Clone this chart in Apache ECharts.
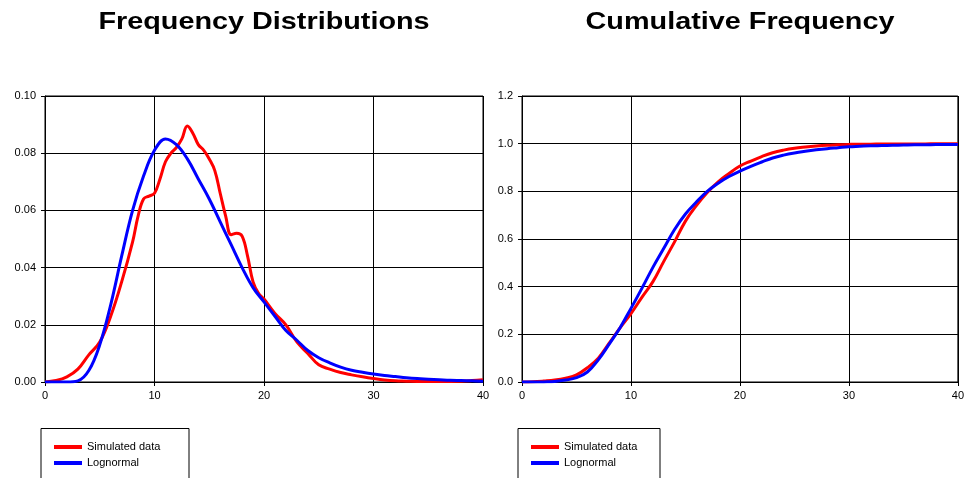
<!DOCTYPE html>
<html>
<head>
<meta charset="utf-8">
<script src="https://cdn.jsdelivr.net/npm/echarts@6/dist/echarts.min.js"></script>
<style>
html,body{margin:0;padding:0;background:#fff;}
#c{width:967px;height:478px;}
</style>
</head>
<body>
<div id="c"></div>
<script>
// ---- Data ----
var titles = ['Frequency Distributions', 'Cumulative Frequency'];
var seriesNames = ['Simulated data', 'Lognormal'];
var xTicks = [0, 10, 20, 30, 40];

// Frequency distribution: simulated data (x, frequency)
var simPdfX = [0,1,2,3,4,5,6,7,8,8.5,9,9.5,10,10.5,11,11.5,12,12.5,13,13.5,14,14.5,15,15.5,16,16.5,17,17.5,18,18.5,19,19.5,20,21,22,23,24,25,26,27,28,29,30,31,32,33,34,36,38,39,40];
var simPdfY = [0,0.0005,0.0018,0.0045,0.0095,0.014,0.023,0.035,0.049,0.058,0.064,0.065,0.066,0.071,0.077,0.080,0.082,0.085,0.0895,0.087,0.083,0.081,0.078,0.074,0.066,0.058,0.0515,0.052,0.051,0.044,0.035,0.031,0.029,0.024,0.020,0.014,0.010,0.006,0.0045,0.0033,0.0025,0.0018,0.0012,0.0007,0.0004,0.0003,0.0002,0.0002,0.0003,0.0005,0.0008];

// Frequency distribution: lognormal fit
var logPdfX = [0,1,2,3,4,5,6,7,8,9,10,11,12,13,14,15,16,17,18,19,20,21,22,23,24,25,26,27,28,29,30,31,32,33,34,35,36,37,38,39,40];
var logPdfY = [0,0,0,0.0004,0.004,0.013,0.027,0.044,0.060,0.072,0.081,0.085,0.083,0.078,0.071,0.064,0.056,0.048,0.040,0.033,0.028,0.023,0.018,0.0146,0.011,0.0085,0.0067,0.0052,0.0041,0.0034,0.0028,0.0023,0.0019,0.0015,0.0012,0.0010,0.0008,0.0006,0.0005,0.0004,0.0003];

// Cumulative frequency
var cdfX = [0,1,2,3,4,5,6,7,8,9,10,11,12,13,14,15,16,17,18,19,20,21,22,23,24,25,26,27,28,29,30,31,32,33,34,35,36,37,38,39,40];
var simCdfY = [0,0.001,0.004,0.008,0.016,0.03,0.06,0.10,0.163,0.227,0.287,0.355,0.42,0.505,0.588,0.675,0.74,0.795,0.84,0.875,0.906,0.927,0.946,0.962,0.973,0.981,0.986,0.99,0.993,0.995,0.997,0.998,0.998,0.999,0.999,0.999,0.999,0.999,1.0,1.0,1.0];
var logCdfY = [0,0,0.0005,0.002,0.008,0.018,0.042,0.093,0.159,0.228,0.309,0.393,0.48,0.56,0.64,0.705,0.755,0.80,0.834,0.862,0.885,0.905,0.923,0.94,0.952,0.961,0.968,0.974,0.979,0.983,0.987,0.989,0.991,0.992,0.993,0.994,0.995,0.995,0.996,0.996,0.996];

function pairs(xs, ys){ return xs.map(function(x,i){ return [x, ys[i]]; }); }

var FONT = 'Liberation Sans, Arial, sans-serif';
var RED = '#ff0000', BLUE = '#0000ff';

function xAxis(gi){
  return {
    type:'value', gridIndex:gi, min:xTicks[0], max:xTicks[xTicks.length-1], interval:10,
    axisLine:{show:true, onZero:false, lineStyle:{color:'#000', width:1}},
    axisTick:{show:true, length:4, lineStyle:{color:'#000'}},
    axisLabel:{color:'#000', fontFamily:FONT, fontSize:11, margin:8},
    splitLine:{show:true, lineStyle:{color:'#000', width:1}}
  };
}
function yAxis(gi, max, interval, dec){
  return {
    type:'value', gridIndex:gi, min:0, max:max, interval:interval,
    axisLine:{show:true, lineStyle:{color:'#000', width:1}},
    axisTick:{show:true, length:4, lineStyle:{color:'#000'}},
    axisLabel:{color:'#000', fontFamily:FONT, fontSize:11, margin:9,
      formatter:function(v){ return v.toFixed(dec); }},
    splitLine:{show:true, lineStyle:{color:'#000', width:1}}
  };
}
function line(name, data, color, gi){
  return {
    type:'line', name:name, xAxisIndex:gi, yAxisIndex:gi, data:data,
    smooth:0.4, showSymbol:false, symbol:'none',
    lineStyle:{color:color, width:3}, itemStyle:{color:color},
    animation:false, silent:true
  };
}
function legend(left){
  return {
    orient:'vertical', left:left, top:440,
    data:seriesNames.map(function(n){ return {name:n, icon:'rect'}; }),
    itemWidth:28, itemHeight:4, itemGap:2,
    padding:0,
    textStyle:{color:'#000', fontFamily:FONT, fontSize:11, lineHeight:14},
    selectedMode:false
  };
}
function box(x, w){
  return {type:'rect', left:x, top:428, silent:true,
    shape:{x:0, y:0, width:w, height:80},
    style:{fill:'#fff', stroke:'#000', lineWidth:1}, z:-1};
}
function titleText(text, cx){
  return {type:'text', x:cx, y:22, scaleX:1.2, scaleY:1, silent:true,
    style:{text:text, x:0, y:0, align:'center', verticalAlign:'middle',
      font:'bold 24px ' + FONT, fill:'#000'}};
}

var chart = echarts.init(document.getElementById('c'), null, {renderer:'canvas'});
chart.setOption({
  backgroundColor:'#fff',
  animation:false,
  graphic:[box(40.5, 148), box(517.5, 142), titleText(titles[0], 264), titleText(titles[1], 740)],
  grid:[
    {left:45, top:96, width:438, height:286, show:true, borderColor:'#000', borderWidth:1, backgroundColor:'transparent'},
    {left:522, top:96, width:438, height:286, show:true, borderColor:'#000', borderWidth:1, backgroundColor:'transparent'}
  ],
  xAxis:[xAxis(0), xAxis(1)],
  yAxis:[yAxis(0, 0.10, 0.02, 2), yAxis(1, 1.2, 0.2, 1)],
  legend:[legend(54), legend(531)],
  series:[
    line(seriesNames[0], pairs(simPdfX, simPdfY), RED, 0),
    line(seriesNames[1], pairs(logPdfX, logPdfY), BLUE, 0),
    line(seriesNames[0], pairs(cdfX, simCdfY), RED, 1),
    line(seriesNames[1], pairs(cdfX, logCdfY), BLUE, 1)
  ]
});
</script>
</body>
</html>
